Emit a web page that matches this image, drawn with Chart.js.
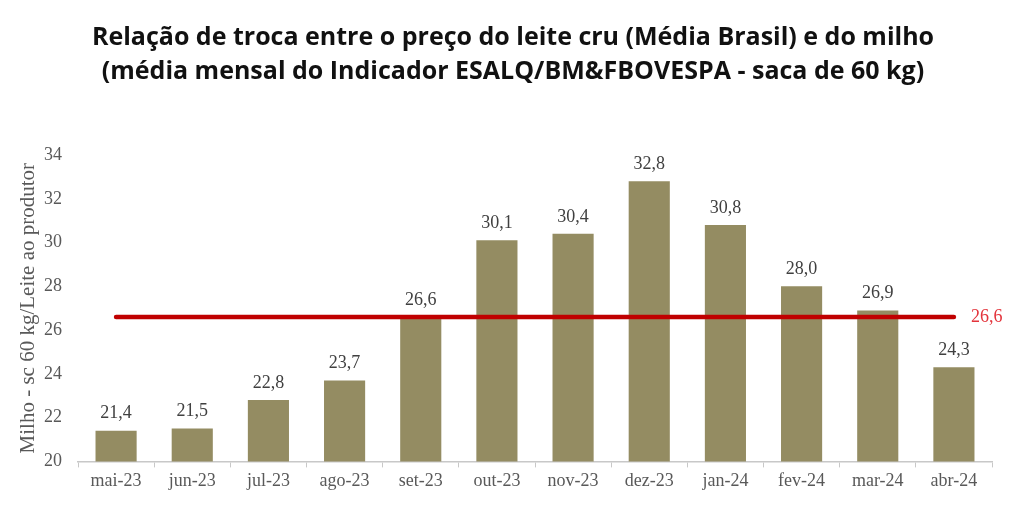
<!DOCTYPE html>
<html>
<head>
<meta charset="utf-8">
<script src="https://cdn.jsdelivr.net/npm/chart.js@4"></script>
<style>
    body { margin: 0; background: #fff; }
    #wrap { width: 1024px; height: 512px; }
</style>
</head>
<body>
<div id="wrap"><canvas id="trocaChart"></canvas></div>
<script>
// Dados do gráfico
const titulo = [
    'Relação de troca entre o preço do leite cru (Média Brasil) e do milho',
    '(média mensal do Indicador ESALQ/BM&FBOVESPA - saca de 60 kg)'
];
const meses = ['mai-23', 'jun-23', 'jul-23', 'ago-23', 'set-23', 'out-23', 'nov-23', 'dez-23', 'jan-24', 'fev-24', 'mar-24', 'abr-24'];
const relacaoTroca = [21.4, 21.5, 22.8, 23.7, 26.6, 30.1, 30.4, 32.8, 30.8, 28.0, 26.9, 24.3];
const mediaPeriodo = 26.6;
const linhaMedia = meses.map(() => mediaPeriodo);

const serif = '"Liberation Serif", "Times New Roman", serif';

function fmt(v) {
    return v.toFixed(1).replace('.', ',');
}

// Título centralizado na página inteira
const tituloPlugin = {
    id: 'tituloCentral',
    afterDraw(chart) {
        const ctx = chart.ctx;
        ctx.save();
        ctx.font = 'bold 25px "Open Sans", sans-serif';
        ctx.fillStyle = '#111111';
        ctx.textAlign = 'center';
        ctx.textBaseline = 'middle';
        titulo.forEach((linha, i) => {
            ctx.fillText(linha, chart.width / 2 + 1, 38 + i * 34);
        });
        ctx.restore();
    }
};

// Rótulos sobre as barras e valor da média
const rotulosPlugin = {
    id: 'rotulos',
    afterDatasetsDraw(chart) {
        const ctx = chart.ctx;
        ctx.save();
        ctx.font = '18px ' + serif;
        ctx.fillStyle = '#404040';
        ctx.textAlign = 'center';
        ctx.textBaseline = 'bottom';
        chart.getDatasetMeta(0).data.forEach((bar, i) => {
            ctx.fillText(fmt(relacaoTroca[i]), bar.x, bar.y - 8);
        });

        const pts = chart.getDatasetMeta(1).data;
        const last = pts[pts.length - 1];
        ctx.fillStyle = '#e3343c';
        ctx.textAlign = 'left';
        ctx.textBaseline = 'middle';
        ctx.fillText(fmt(mediaPeriodo), last.x + 17, last.y);
        ctx.restore();
    }
};

new Chart(document.getElementById('trocaChart'), {
    data: {
        labels: meses,
        datasets: [
            {
                type: 'bar',
                data: relacaoTroca,
                backgroundColor: '#948c62',
                categoryPercentage: 1,
                barPercentage: 0.54,
                order: 2
            },
            {
                type: 'line',
                data: linhaMedia,
                borderColor: '#c00000',
                borderWidth: 4.5,
                borderCapStyle: 'round',
                pointRadius: 0,
                order: 1
            }
        ]
    },
    options: {
        responsive: true,
        maintainAspectRatio: false,
        animation: false,
        layout: {
            padding: { top: 155, left: 16, right: 32, bottom: 17 }
        },
        plugins: {
            legend: { display: false },
            tooltip: { enabled: false },
            title: { display: false }
        },
        scales: {
            x: {
                offset: true,
                grid: {
                    display: true,
                    drawOnChartArea: false,
                    drawTicks: true,
                    tickLength: 6,
                    offset: true,
                    color: '#c8c8c8'
                },
                border: { display: true, color: '#c8c8c8', width: 1.5 },
                ticks: {
                    color: '#595959',
                    font: { family: serif, size: 18 },
                    padding: 3
                }
            },
            y: {
                min: 20,
                max: 34,
                grid: { display: false, drawTicks: false },
                border: { display: false },
                ticks: {
                    stepSize: 2,
                    color: '#595959',
                    font: { family: serif, size: 18 },
                    padding: 16
                },
                title: {
                    display: true,
                    text: 'Milho - sc 60 kg/Leite ao produtor',
                    color: '#595959',
                    font: { family: serif, size: 21 },
                    padding: { top: 0, bottom: 0 }
                },
                afterFit(scale) {
                    scale.width = 62;
                }
            }
        }
    },
    plugins: [rotulosPlugin, tituloPlugin]
});
</script>
</body>
</html>
